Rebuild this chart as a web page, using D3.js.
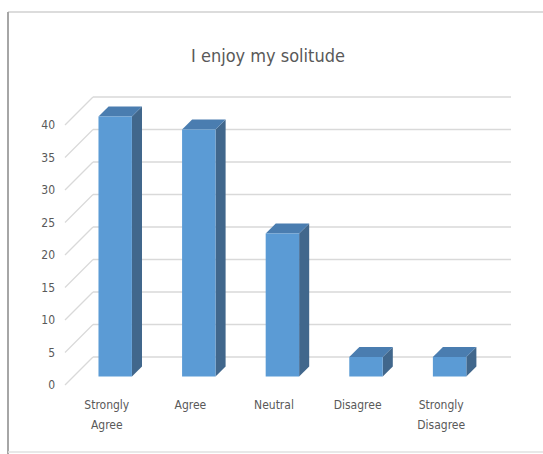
<!DOCTYPE html>
<html>
<head>
<meta charset="utf-8">
<script src="https://cdn.jsdelivr.net/npm/d3@7"></script>
<style>
  body { margin: 0; background: #fff; }
  text { font-family: "Liberation Sans Narrow", "DejaVu Sans Condensed", "Liberation Sans", sans-serif; fill: #595959; }
</style>
</head>
<body>
<div id="chart"></div>
<script>
// data
const categories = [["Strongly", "Agree"], ["Agree"], ["Neutral"], ["Disagree"], ["Strongly", "Disagree"]];
const values = [40, 38, 22, 3, 3];
const yTicks = [0, 5, 10, 15, 20, 25, 30, 35, 40];
const title = "I enjoy my solitude";

const width = 543, height = 454;

/** 3d-ish projection: depth 0 = front plane, 1 = back wall */
const depth = { dx: 28, dy: -28 };
const proj = (x, y, d) => [x + depth.dx * d, y + depth.dy * d];

const xScale = d3.scaleBand()
  .domain(d3.range(values.length))
  .range([65, 483])
  .paddingInner(0.6)
  .paddingOuter(0.3);

// band used for labels (no padding)
const xLabel = d3.scaleBand()
  .domain(d3.range(values.length))
  .range([65, 483]);

const yScale = d3.scaleLinear()
  .domain([0, 40])
  .range([385, 125]);

const svg = d3.select("#chart")
  .append("svg")
  .attr("width", width)
  .attr("height", height);

/** frame */
svg.append("line")
  .attr("x1", 8).attr("x2", width).attr("y1", 12).attr("y2", 12)
  .attr("stroke", "#d0d0d0").attr("stroke-width", 1.5);
svg.append("line")
  .attr("x1", 8).attr("x2", 8).attr("y1", 12).attr("y2", height)
  .attr("stroke", "#a6a6a6").attr("stroke-width", 2);
svg.append("line")
  .attr("x1", 8).attr("x2", width).attr("y1", 452).attr("y2", 452)
  .attr("stroke", "#e0e0e0").attr("stroke-width", 1.5);

/** title */
svg.append("text")
  .attr("x", 268)
  .attr("y", 62)
  .attr("text-anchor", "middle")
  .style("font-size", "18px")
  .text(title);

/** gridlines: back wall + side wall diagonals */
const grid = svg.append("g").attr("id", "grid")
  .attr("stroke", "#d9d9d9")
  .attr("stroke-width", 1.3)
  .attr("fill", "none");

grid.selectAll("line.back")
  .data(yTicks)
  .enter()
  .append("line")
  .attr("class", "back")
  .attr("x1", d => proj(65, yScale(d), 1)[0])
  .attr("y1", d => proj(65, yScale(d), 1)[1])
  .attr("x2", d => proj(483, yScale(d), 1)[0])
  .attr("y2", d => proj(483, yScale(d), 1)[1]);

grid.selectAll("line.side")
  .data(yTicks)
  .enter()
  .append("line")
  .attr("class", "side")
  .attr("x1", 65)
  .attr("y1", d => yScale(d))
  .attr("x2", d => proj(65, yScale(d), 1)[0])
  .attr("y2", d => proj(65, yScale(d), 1)[1]);

/** y tick labels */
svg.append("g")
  .attr("id", "y-axis")
  .selectAll("text")
  .data(yTicks)
  .enter()
  .append("text")
  .attr("x", 55)
  .attr("y", d => yScale(d))
  .attr("dy", "0.35em")
  .attr("text-anchor", "end")
  .style("font-size", "12px")
  .text(d => d);

/** bars */
const d0 = 0.3, d1 = 0.66;
const colors = { front: "#5b9bd5", side: "#41678c", top: "#4a7db0" };

const bars = svg.append("g").attr("id", "bars")
  .selectAll("g")
  .data(values)
  .enter()
  .append("g");

const pts = (arr) => arr.map(p => p.join(",")).join(" ");

bars.append("polygon") // side
  .attr("fill", colors.side)
  .attr("points", (v, i) => {
    const xr = xScale(i) + xScale.bandwidth();
    return pts([proj(xr, yScale(v), d0), proj(xr, yScale(v), d1), proj(xr, yScale(0), d1), proj(xr, yScale(0), d0)]);
  });

bars.append("polygon") // top
  .attr("fill", colors.top)
  .attr("points", (v, i) => {
    const xl = xScale(i), xr = xl + xScale.bandwidth();
    return pts([proj(xl, yScale(v), d0), proj(xl, yScale(v), d1), proj(xr, yScale(v), d1), proj(xr, yScale(v), d0)]);
  });

bars.append("polygon") // front
  .attr("fill", colors.front)
  .attr("points", (v, i) => {
    const xl = xScale(i), xr = xl + xScale.bandwidth();
    return pts([proj(xl, yScale(v), d0), proj(xr, yScale(v), d0), proj(xr, yScale(0), d0), proj(xl, yScale(0), d0)]);
  });

/** category labels */
svg.append("g")
  .attr("id", "x-axis")
  .selectAll("text")
  .data(categories)
  .enter()
  .append("text")
  .attr("x", (d, i) => xLabel(i) + xLabel.bandwidth() / 2)
  .attr("y", 409)
  .attr("text-anchor", "middle")
  .style("font-size", "12px")
  .each(function(d, i) {
    d3.select(this).selectAll("tspan")
      .data(d)
      .enter()
      .append("tspan")
      .attr("x", xLabel(i) + xLabel.bandwidth() / 2)
      .attr("dy", (t, j) => j ? 20 : 0)
      .text(t => t);
  });
</script>
</body>
</html>
